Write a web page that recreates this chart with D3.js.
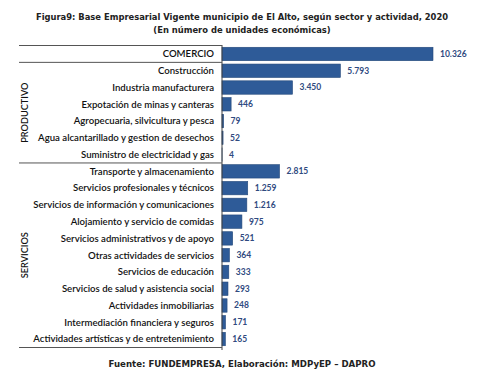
<!DOCTYPE html>
<html><head><meta charset="utf-8">
<script src="https://cdn.jsdelivr.net/npm/d3@7"></script>
<style>body{margin:0;background:#fff;} svg{display:block;}</style>
</head><body>
<svg id="c" width="483" height="378"></svg>
<script>
const categories = ["COMERCIO","Construcción","Industria manufacturera","Expotación de minas y canteras","Agropecuaria, silvicultura y pesca","Agua alcantarillado y gestion de desechos","Suministro de electricidad y gas","Transporte y almacenamiento","Servicios profesionales y técnicos","Servicios de información y comunicaciones","Alojamiento y servicio de comidas","Servicios administrativos y de apoyo","Otras actividades de servicios","Servicios de educación","Servicios de salud y asistencia social","Actividades inmobiliarias","Intermediación financiera y seguros","Actividades artísticas y de entretenimiento"];
const values = [10326,5793,3450,446,79,52,4,2815,1259,1216,975,521,364,333,293,248,171,165];
const valueLabels = ["10.326","5.793","3.450","446","79","52","4","2.815","1.259","1.216","975","521","364","333","293","248","171","165"];
const groups = [{name:"", first:0, last:0},{name:"PRODUCTIVO", first:1, last:6},{name:"SERVICIOS", first:7, last:17}];
const title1 = "Figura9: Base Empresarial Vigente municipio de El Alto, según sector y actividad, 2020";
const title2 = "(En número de unidades económicas)";
const footer = "Fuente: FUNDEMPRESA, Elaboración: MDPyEP – DAPRO";

const svg = d3.select("#c");
const x0 = 222;
const y = d3.scaleBand().domain(categories).range([45.6, 347.4]).paddingInner(0.2).paddingOuter(0.1);
const x = d3.scaleLinear().domain([0, 10326]).range([x0, 433]);
const barColor = "#2E5B98", lblColor = "#2F4A80";

svg.append("text").attr("x", 242).attr("y", 20).attr("text-anchor","middle")
  .attr("font-family","DejaVu Sans").attr("font-weight","bold").attr("font-size",8.4).attr("fill","#222").text(title1);
svg.append("text").attr("x", 242).attr("y", 32.5).attr("text-anchor","middle")
  .attr("font-family","DejaVu Sans").attr("font-weight","bold").attr("font-size",8.4).attr("fill","#222").text(title2);

svg.selectAll("rect.bar").data(values).enter().append("rect").attr("class","bar")
  .attr("x", x(0)).attr("y",(d,i)=>y(categories[i])).attr("width",d=>x(d)-x(0)).attr("height",y.bandwidth())
  .attr("fill",barColor).attr("stroke","#24487a").attr("stroke-width",0.6);

svg.selectAll("text.val").data(values).enter().append("text").attr("class","val")
  .attr("x",d=>x(d)+7).attr("y",(d,i)=>y(categories[i])+y.bandwidth()/2).attr("dy","0.35em")
  .attr("font-family","Lato").attr("font-weight","bold").attr("font-size",8.5).attr("fill",lblColor)
  .text((d,i)=>valueLabels[i]);

svg.selectAll("text.cat").data(categories).enter().append("text").attr("class","cat")
  .attr("x",214).attr("y",d=>y(d)+y.bandwidth()/2).attr("dy","0.35em").attr("text-anchor","end")
  .attr("font-family","Lato").attr("font-weight","600").attr("font-size",9.6).attr("fill","#111").text(d=>d);

// axis line
svg.append("line").attr("x1",x0).attr("x2",x0).attr("y1",45).attr("y2",350).attr("stroke","#444").attr("stroke-width",1);

// group bracket lines
const step = y.step();
const edges = [45.5];
groups.forEach(g=>edges.push(y(categories[g.last]) + y.bandwidth() + step*y.paddingInner()/2));
edges[edges.length-1] = 347.5;
edges.forEach(v=>svg.append("line").attr("x1",19).attr("x2",x0).attr("y1",v).attr("y2",v).attr("stroke","#555").attr("stroke-width",1));

groups.forEach((g,i)=>{
  if(!g.name) return;
  const m = (edges[i]+edges[i+1])/2;
  svg.append("text").attr("transform",`translate(28,${m}) rotate(-90)`).attr("text-anchor","middle")
   .attr("font-family","Lato").attr("font-size",9.2).attr("font-weight","600").attr("fill","#111").text(g.name);
});

svg.append("text").attr("x",242).attr("y",367).attr("text-anchor","middle")
  .attr("font-family","DejaVu Sans").attr("font-weight","bold").attr("font-size",8.6).attr("fill","#222").text(footer);
</script>
</body></html>
